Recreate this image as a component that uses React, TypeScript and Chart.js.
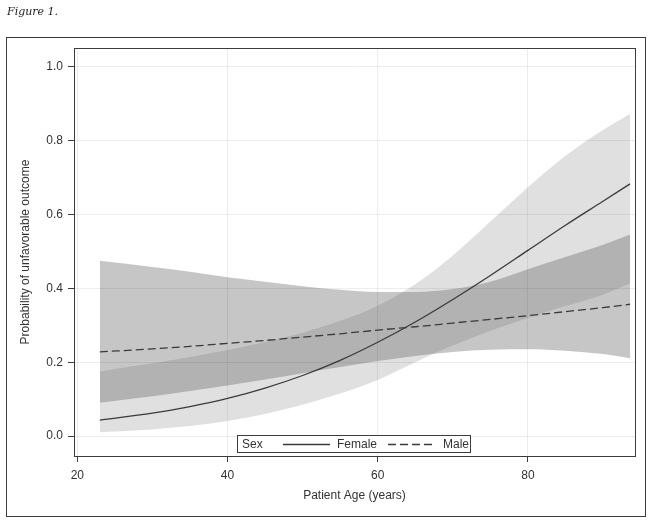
import { useEffect, useRef } from 'react';
import { Chart, registerables } from 'chart.js';

Chart.register(...registerables);

// ---- data ----
const ages = [23, 30, 35, 40, 45, 50, 55, 60, 65, 70, 75, 80, 85, 90, 93.6];

const femaleProb = [0.043, 0.062, 0.080, 0.102, 0.130, 0.164, 0.205, 0.254, 0.309, 0.370, 0.435, 0.503, 0.571, 0.636, 0.683];
const femaleLower = [0.010, 0.018, 0.027, 0.041, 0.060, 0.085, 0.115, 0.152, 0.200, 0.245, 0.285, 0.320, 0.352, 0.383, 0.413];
const femaleUpper = [0.175, 0.197, 0.214, 0.233, 0.255, 0.280, 0.312, 0.353, 0.411, 0.489, 0.581, 0.674, 0.759, 0.829, 0.872];

const maleProb = [0.228, 0.236, 0.243, 0.251, 0.259, 0.268, 0.277, 0.287, 0.296, 0.306, 0.316, 0.326, 0.337, 0.348, 0.357];
const maleLower = [0.090, 0.108, 0.122, 0.137, 0.153, 0.170, 0.187, 0.203, 0.217, 0.228, 0.234, 0.235, 0.231, 0.222, 0.211];
const maleUpper = [0.475, 0.458, 0.445, 0.430, 0.418, 0.406, 0.396, 0.390, 0.390, 0.398, 0.418, 0.452, 0.485, 0.518, 0.546];

const xTicks = [20, 40, 60, 80];
const yTicks = [0.0, 0.2, 0.4, 0.6, 0.8, 1.0];

const figureLabel = 'Figure 1.';
const xTitle = 'Patient Age (years)';
const yTitle = 'Probability of unfavorable outcome';
const legendTitle = 'Sex';
const femaleLabel = 'Female';
const maleLabel = 'Male';

const FONT = '"Liberation Sans", Arial, Helvetica, sans-serif';
const INK = '#333333';

const pts = (ys: number[]) => ages.map((x, i) => ({ x, y: ys[i] }));

export default function App() {
  const ref = useRef<HTMLCanvasElement>(null);

  useEffect(() => {
    if (!ref.current) return;

    const framePlugin = {
      id: 'frameAndLegend',
      afterDraw(chart: any) {
        const ctx = chart.ctx as CanvasRenderingContext2D;
        const ca = chart.chartArea;
        ctx.save();
        ctx.strokeStyle = '#3c3c3c';
        ctx.lineWidth = 1;
        ctx.setLineDash([]);
        // plot frame
        ctx.strokeRect(ca.left + 0.5, ca.top + 0.5, ca.right - ca.left, ca.bottom - ca.top);
        // outer frame
        ctx.strokeRect(6.5, 37.5, 639, 479);

        // legend (inside the plot, bottom centre)
        const ds = chart.data.datasets;
        const fem = ds.find((d: any) => d.label === femaleLabel);
        const mal = ds.find((d: any) => d.label === maleLabel);
        const bx = 237.5, by = 435.5, bw = 233, bh = 17;
        const cy = by + bh / 2;
        ctx.fillStyle = '#ffffff';
        ctx.fillRect(bx, by, bw, bh);
        ctx.strokeRect(bx, by, bw, bh);
        ctx.font = `12px ${FONT}`;
        ctx.fillStyle = INK;
        ctx.textBaseline = 'middle';
        ctx.textAlign = 'left';
        ctx.fillText(legendTitle, 242, cy + 0.5);
        // Female
        ctx.strokeStyle = fem.borderColor;
        ctx.lineWidth = fem.borderWidth;
        ctx.setLineDash(fem.borderDash || []);
        ctx.beginPath();
        ctx.moveTo(283, Math.round(cy) + 0.5);
        ctx.lineTo(330, Math.round(cy) + 0.5);
        ctx.stroke();
        ctx.fillText(fem.label, 337, cy + 0.5);
        // Male
        ctx.strokeStyle = mal.borderColor;
        ctx.lineWidth = mal.borderWidth;
        ctx.setLineDash(mal.borderDash || []);
        ctx.beginPath();
        ctx.moveTo(388, Math.round(cy) + 0.5);
        ctx.lineTo(433, Math.round(cy) + 0.5);
        ctx.stroke();
        ctx.setLineDash([]);
        ctx.fillText(mal.label, 443, cy + 0.5);
        ctx.restore();
      },
    };

    const band = (data: number[], fill: any, color: string) => ({
      data: pts(data),
      borderWidth: 0,
      borderColor: 'rgba(0,0,0,0)',
      backgroundColor: color,
      pointRadius: 0,
      fill,
      cubicInterpolationMode: 'monotone' as const,
      order: 2,
    });

    const chart = new Chart(ref.current, {
      type: 'line',
      data: {
        datasets: [
          { ...band(maleLower, false, 'rgba(0,0,0,0)'), label: 'male-lower' },
          { ...band(maleUpper, '-1', 'rgba(100,100,100,0.37)'), label: 'male-upper' },
          { ...band(femaleLower, false, 'rgba(0,0,0,0)'), label: 'female-lower' },
          { ...band(femaleUpper, '-1', 'rgba(100,100,100,0.2)'), label: 'female-upper' },
          {
            label: femaleLabel,
            data: pts(femaleProb),
            borderColor: '#3a3a3a',
            borderWidth: 1.3,
            pointRadius: 0,
            fill: false,
            cubicInterpolationMode: 'monotone',
            order: 0,
          },
          {
            label: maleLabel,
            data: pts(maleProb),
            borderColor: '#3a3a3a',
            borderWidth: 1.3,
            borderDash: [8, 4],
            pointRadius: 0,
            fill: false,
            cubicInterpolationMode: 'monotone',
            order: 0,
          },
        ],
      },
      options: {
        responsive: false,
        animation: false,
        layout: { padding: { left: 0, top: 48, right: 18, bottom: 7 } },
        plugins: {
          legend: { display: false },
          tooltip: { enabled: false },
        },
        scales: {
          x: {
            type: 'linear',
            min: 19.56,
            max: 94.26,
            afterFit: (s: any) => { s.height = 60; },
            afterBuildTicks: (s: any) => { s.ticks = xTicks.map((v) => ({ value: v })); },
            ticks: {
              color: INK,
              font: { family: FONT, size: 12 },
              padding: 6,
              maxRotation: 0,
              callback: (v: any) => String(v),
            },
            grid: {
              color: 'rgba(0,0,0,0.07)',
              tickColor: '#3c3c3c',
              tickLength: 6,
              z: 1,
            },
            border: { display: false },
            title: {
              display: true,
              text: xTitle,
              color: INK,
              font: { family: FONT, size: 12 },
              padding: { top: 0, bottom: 13 },
            },
          },
          y: {
            type: 'linear',
            min: -0.054,
            max: 1.051,
            afterFit: (s: any) => { s.width = 74; },
            afterBuildTicks: (s: any) => { s.ticks = yTicks.map((v) => ({ value: v })); },
            ticks: {
              color: INK,
              font: { family: FONT, size: 12 },
              padding: 5,
              callback: (v: any) => Number(v).toFixed(1),
            },
            grid: {
              color: 'rgba(0,0,0,0.07)',
              tickColor: '#3c3c3c',
              tickLength: 6,
              z: 1,
            },
            border: { display: false },
            title: {
              display: true,
              text: yTitle,
              color: INK,
              font: { family: FONT, size: 12 },
              padding: { top: 18, bottom: 0 },
            },
          },
        },
      },
      plugins: [framePlugin],
    } as any);

    return () => chart.destroy();
  }, []);

  return (
    <div style={{ position: 'absolute', left: 0, top: 0, width: 653, height: 523, background: '#ffffff' }}>
      <canvas ref={ref} width={653} height={523} style={{ position: 'absolute', left: 0, top: 0 }} />
      <div
        style={{
          position: 'absolute',
          left: 7,
          top: 5,
          fontFamily: '"DejaVu Serif", "Liberation Serif", serif',
          fontStyle: 'italic',
          fontSize: 11,
          color: '#222222',
          lineHeight: '14px',
          whiteSpace: 'nowrap',
        }}
      >
        {figureLabel}
      </div>
    </div>
  );
}
